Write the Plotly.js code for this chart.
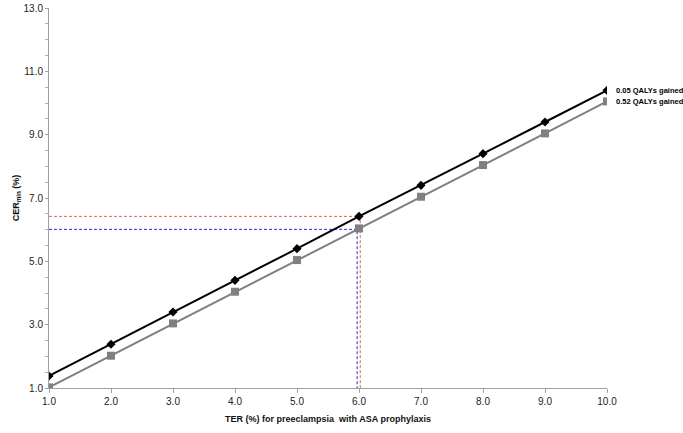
<!DOCTYPE html>
<html>
<head>
<meta charset="utf-8">
<script src="https://cdn.plot.ly/plotly-3.0.1.min.js"></script>
<style>html,body{margin:0;padding:0;background:#fff}#chart{width:683px;height:433px}</style>
</head>
<body>
<div id="chart"></div>
<script>
const ter = [1, 2, 3, 4, 5, 6, 7, 8, 9, 10];
const cerLow = [1.38, 2.38, 3.4, 4.4, 5.4, 6.42, 7.4, 8.4, 9.4, 10.4];
const cerHigh = [1.02, 2.02, 3.04, 4.04, 5.04, 6.04, 7.04, 8.04, 9.04, 10.05];
const seriesNames = ["0.05 QALYs gained", "0.52 QALYs gained"];
const redRefX = [1, 6.02, 6.02];
const redRefY = [6.42, 6.42, 1];
const blueRefX = [1, 5.97, 5.97];
const blueRefY = [6.01, 6.01, 1];

const traces = [
  {x: redRefX, y: redRefY, mode: 'lines', line: {color: '#f05a5a', width: 1, dash: '3px,2px'}, hoverinfo: 'skip'},
  {x: blueRefX, y: blueRefY, mode: 'lines', line: {color: '#2b2bd0', width: 1, dash: '3px,2px'}, hoverinfo: 'skip'},
  {x: ter, y: cerHigh, mode: 'lines+markers', name: seriesNames[1], line: {color: '#808080', width: 2}, marker: {symbol: 'square', size: 8, color: '#808080'}},
  {x: ter, y: cerLow, mode: 'lines+markers', name: seriesNames[0], line: {color: '#000000', width: 2}, marker: {symbol: 'diamond', size: 7, color: '#000000'}}
];

const lastIdx = ter.length - 1;
const annotations = [
  {x: ter[lastIdx], y: cerLow[lastIdx], text: '<b>' + seriesNames[0] + '</b>', xanchor: 'left', xshift: 7, showarrow: false, font: {family: 'Arial, Liberation Sans, sans-serif', size: 7.5, color: '#000000'}},
  {x: ter[lastIdx], y: cerHigh[lastIdx], text: '<b>' + seriesNames[1] + '</b>', xanchor: 'left', xshift: 7, showarrow: false, font: {family: 'Arial, Liberation Sans, sans-serif', size: 7.5, color: '#000000'}}
];

const layout = {
  width: 683, height: 433,
  margin: {l: 49, r: 76, t: 8, b: 45},
  paper_bgcolor: '#fff', plot_bgcolor: '#fff',
  showlegend: false,
  font: {family: 'Arial, Liberation Sans, sans-serif', size: 10, color: '#222'},
  xaxis: {
    range: [1, 10], dtick: 1, tick0: 1, tickformat: '.1f',
    showgrid: false, zeroline: false, showline: true, linecolor: '#a0a0a0', linewidth: 1,
    ticks: 'outside', ticklen: 4, tickcolor: '#a0a0a0',
    tickfont: {size: 10, color: '#222'},
    title: {text: '<b>TER (%) for preeclampsia  with ASA prophylaxis</b>', font: {size: 9, color: '#111'}, standoff: 9}
  },
  yaxis: {
    range: [1, 13], dtick: 2, tick0: 1, tickformat: '.1f',
    showgrid: false, zeroline: false, showline: true, linecolor: '#a0a0a0', linewidth: 1,
    ticks: 'outside', ticklen: 3, tickcolor: '#a0a0a0',
    minor: {dtick: 0.5, ticks: 'outside', ticklen: 3, tickcolor: '#b0b0b0', showgrid: false},
    tickfont: {size: 10, color: '#222'},
    title: {text: '<b>CER<sub>min</sub> (%)</b>', font: {size: 9, color: '#111'}, standoff: 2}
  },
  annotations: annotations
};

Plotly.newPlot('chart', traces, layout, {displayModeBar: false, staticPlot: true});
</script>
</body>
</html>
